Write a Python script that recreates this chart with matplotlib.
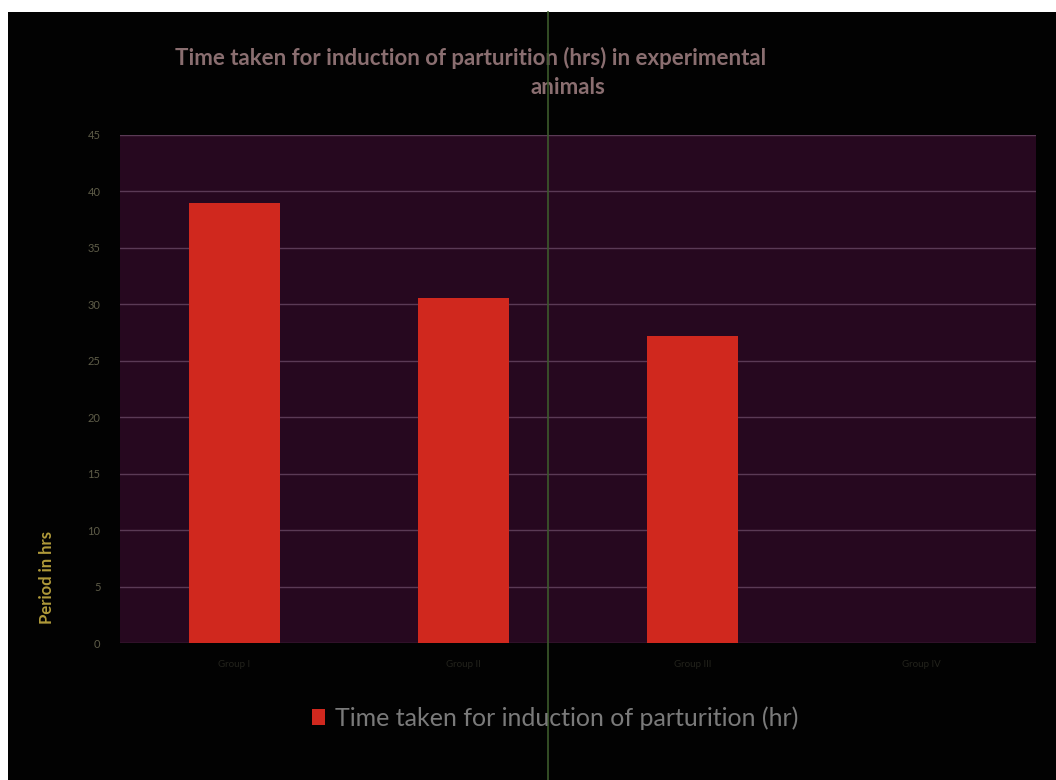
import numpy as np
from matplotlib import pyplot as plt
from matplotlib.patches import Rectangle
from matplotlib.lines import Line2D

# data
groups = ["Group I", "Group II", "Group III", "Group IV"]
hours = [39.0, 30.6, 27.2, 0.0]
series_name = "Time taken for induction of parturition (hr)"
title_1 = "Time taken for induction of parturition (hrs) in experimental"
title_2 = "animals"
y_ticks = np.arange(0, 50, 5)

plt.rcParams['font.family'] = ['Lato', 'DejaVu Sans']

fig = plt.figure(figsize=(10.56, 7.8), dpi=100, facecolor="white")
# black chart area with a thin white margin at top and left (scan)
fig.patches.append(Rectangle((8 / 1056, 0), 1, 1 - 12 / 780, transform=fig.transFigure,
                             facecolor="#020202", edgecolor="none", zorder=-5))

ax = fig.add_axes([120 / 1056, 1 - 643 / 780, 916 / 1056, 508 / 780])
ax.set_facecolor("#26081f")

x = np.arange(len(groups))
ax.bar(x, hours, width=0.4, color="#d0281e", zorder=3, label=series_name)

ax.set_xlim(-0.5, len(groups) - 0.5)
ax.set_ylim(0, 45)
ax.set_yticks(y_ticks)
ax.set_yticklabels([str(v) for v in y_ticks], color="#5e5c48", fontsize=8)
ax.set_xticks(x)
ax.set_xticklabels(groups, color="#23231c", fontsize=7)
ax.tick_params(length=0, pad=14)
ax.tick_params(axis="x", pad=12)
ax.grid(axis="y", color="#5a3a55", linewidth=1.0, zorder=1)
for s in ax.spines.values():
    s.set_visible(False)

fig.text(471 / 1056, 1 - 58 / 780, title_1, ha="center", va="center",
         color="#8a6e70", fontsize=16, fontweight="bold")
fig.text(568 / 1056, 1 - 88 / 780, title_2, ha="center", va="center",
         color="#8a6e70", fontsize=16, fontweight="bold")

fig.text(47 / 1056, 1 - 578 / 780, "Period in hrs", rotation=90, ha="center", va="center",
         color="#b09a3a", fontsize=12, fontweight="bold")

leg = fig.legend(loc="center", bbox_to_anchor=(555 / 1056, 1 - 718 / 780), frameon=False,
                 fontsize=18, handlelength=0.5, handleheight=0.6, handletextpad=0.4)
for t in leg.get_texts():
    t.set_color("#7a7a7a")

# green scan line through the page
fig.lines.append(Line2D([548 / 1056, 548 / 1056], [0, 1 - 12 / 780], transform=fig.transFigure,
                        color="#3c5a2c", linewidth=1.2, zorder=5))

fig.savefig("out.png", dpi=100, facecolor=fig.get_facecolor())
